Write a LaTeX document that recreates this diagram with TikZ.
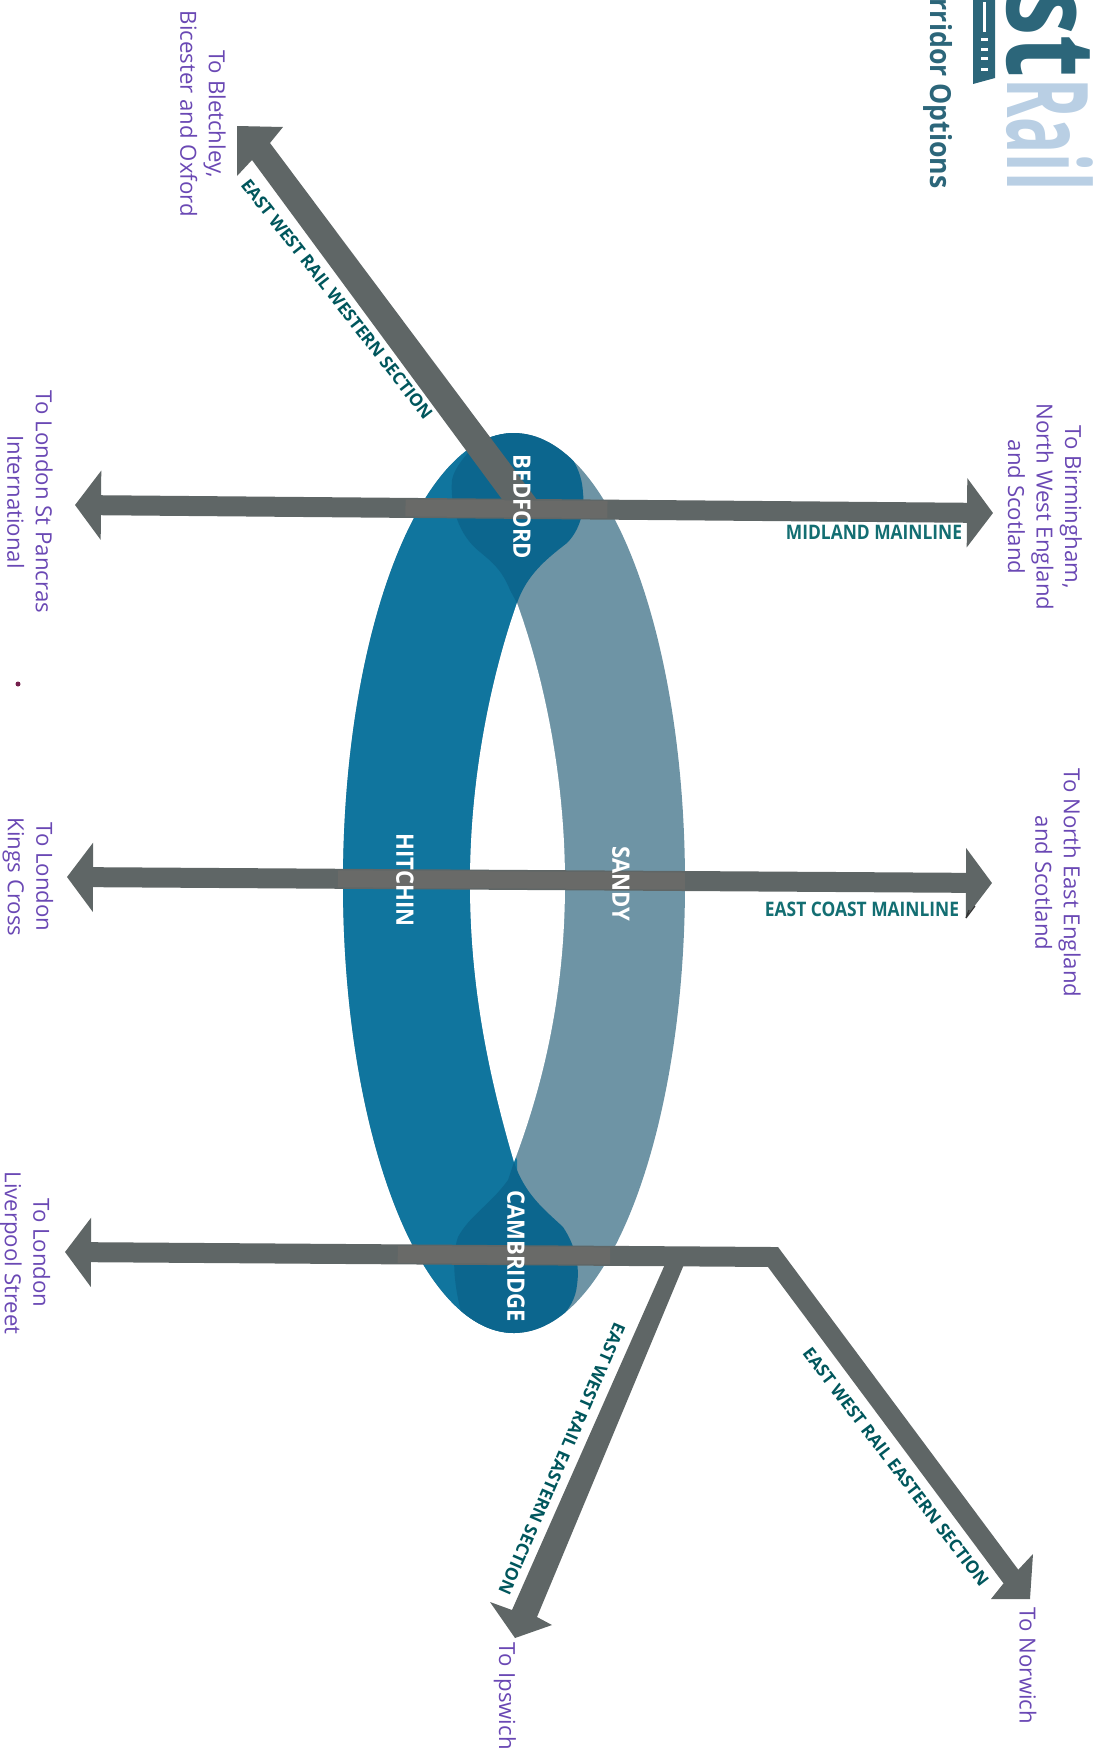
\documentclass[tikz,border=0pt]{standalone}
\usepackage{fontspec}
\usepackage{graphicx}
\setmainfont{Open Sans}
\usetikzlibrary{arrows.meta,calc}
\definecolor{ringdark}{HTML}{10759E}
\definecolor{ringlight}{HTML}{6E94A5}
\definecolor{blob}{HTML}{0C668E}
\definecolor{shaft}{HTML}{5F6666}
\definecolor{overring}{HTML}{696A68}
\definecolor{tealA}{HTML}{136E72}
\definecolor{tealB}{HTML}{00565C}
\definecolor{purp}{HTML}{6A48B4}
\definecolor{logodark}{HTML}{2C667A}
\definecolor{logolight}{HTML}{B9CFE4}
\tikzset{
  mainline/.style={draw=shaft,line width=20pt,line join=miter},
  bothheads/.style={mainline,{Triangle[length=26pt,width=68pt]}-{Triangle[length=26pt,width=68pt]}},
  westhead/.style={mainline,{Triangle[length=26pt,width=68pt]}-},
  overlay line/.style={draw=overring,line width=17pt},
  headfill/.style={fill=shaft,draw=none},
  placelabel/.style={text=purp,font=\fontsize{22.2}{28.5}\selectfont,align=center,rotate=-90,inner sep=0pt},
  linelabel/.style={text=tealA,font=\fontsize{20}{20}\bfseries\selectfont,inner sep=0pt},
  seclabel/.style={text=tealB,font=\fontsize{17.3}{18}\bfseries\selectfont,inner sep=0pt},
  stnlabel/.style={text=white,font=\fontsize{24}{24}\bfseries\selectfont,rotate=-90,inner sep=0pt}
}
\newcommand{\narrowlabel}[1]{\scalebox{0.87}[1]{#1}}
\newcommand{\narrowstn}[1]{\scalebox{0.92}[1]{#1}}
\begin{document}
\begin{tikzpicture}[x=1pt,y=-1pt]
\useasboundingbox (0,0) rectangle (1096,1757);
% ring
\fill[ringlight] (514,883) ellipse [x radius=171,y radius=450];
\begin{scope}
\clip (514,883) ellipse [x radius=171,y radius=450];
\fill[ringdark] (300,420) -- (517,420) -- (517,603) .. controls (490,680) and (470,780) .. (470,883)
  .. controls (470,990) and (490,1080) .. (517,1160) -- (517,1340) -- (300,1340) -- cycle;
\fill[blob] (517,603) .. controls (527,575) and (545,560) .. (567,543)
  .. controls (580,530) and (585,510) .. (583,493)
  .. controls (582,470) and (570,450) .. (547,430) -- (490,430)
  .. controls (470,450) and (455,465) .. (452,480)
  .. controls (450,505) and (458,535) .. (480,552)
  .. controls (492,562) and (502,570) .. (510,590) -- cycle;
\fill[blob] (514,1162) .. controls (525,1195) and (545,1210) .. (563,1227)
  .. controls (575,1245) and (580,1265) .. (577,1285)
  .. controls (575,1310) and (550,1335) .. (517,1340) -- (470,1340)
  .. controls (455,1300) and (450,1260) .. (458,1237)
  .. controls (470,1215) and (490,1205) .. (508,1180) -- cycle;
\end{scope}
\fill[white] (517,603) .. controls (490,680) and (470,780) .. (470,883)
  .. controls (470,990) and (490,1080) .. (514,1162)
  .. controls (545,1080) and (565,990) .. (565,883)
  .. controls (565,780) and (545,680) .. (517,603) -- cycle;
% named points
\coordinate (mlW) at (75,505);
\coordinate (mlE) at (993,513);
\coordinate (ecW) at (67,877);
\coordinate (ecE) at (992,883);
\coordinate (lvW) at (65,1252);
\coordinate (elbow) at (773,1257);
\coordinate (nwEnd) at (1012,1578);
% Bletchley arrow
\fill[headfill] (237,126) -- (283,127) -- (270,143) -- (537,500) -- (507,506) -- (252,160) -- (237,176) -- cycle;
% straight lines
\draw[bothheads] (mlW) -- (mlE);
\draw[bothheads] (ecW) -- (ecE);
\draw[westhead] (lvW) -- (elbow) -- (nwEnd);
\draw[overlay line] ($(mlW)!0.36!(mlE)$) -- ($(mlW)!0.58!(mlE)$);
\draw[overlay line] ($(ecW)!0.293!(ecE)$) -- ($(ecW)!0.668!(ecE)$);
\draw[overlay line] ($(lvW)!0.47!(elbow)$) -- ($(lvW)!0.77!(elbow)$);
% Norwich head
\fill[headfill] (1030,1599) -- (1033,1554) -- (1018,1570) -- (1003,1584) -- (991,1599) -- cycle;
% Ipswich arrow
\fill[headfill] (666,1262) -- (685,1262) -- (537,1617) -- (552,1625) -- (515,1638) -- (490,1602) -- (512,1610) -- cycle;
% labels on ring
\node[stnlabel] (bedford) at (522,507) {\narrowstn{BEDFORD}};
\node[stnlabel] (hitchin) at (405,880) {\narrowstn{HITCHIN}};
\node[stnlabel] (sandy) at (621,884) {\narrowstn{SANDY}};
\node[stnlabel] (cambridge) at (516,1256) {\narrowstn{CAMBRIDGE}};
% line labels
\node[linelabel] (midland) at (874,532) {\narrowlabel{MIDLAND MAINLINE}};
\node[linelabel] (eastcoast) at (862,909) {\narrowlabel{EAST COAST MAINLINE}};
\node[seclabel,rotate=-52] (western) at (337,299) {EAST WEST RAIL WESTERN SECTION};
\node[seclabel,rotate=-113.4] (easternA) at (562,1459) {EAST WEST RAIL EASTERN SECTION};
\node[seclabel,rotate=-52.7] (easternB) at (896,1467) {EAST WEST RAIL EASTERN SECTION};
% destinations
\node[placelabel] (bham) at (1045,507) {To Birmingham,\\North West England\\and Scotland};
\node[placelabel] (ne) at (1058,883) {To North East England\\and Scotland};
\node[placelabel] (blet) at (203,114) {To Bletchley,\\Bicester and Oxford};
\node[placelabel] (stp) at (30,502) {To London St Pancras\\International};
\node[placelabel] (kx) at (28,877) {To London\\Kings Cross};
\node[placelabel] (lst) at (25,1253) {To London\\Liverpool Street};
\node[placelabel] (ips) at (505,1696) {To Ipswich};
\node[placelabel] (nor) at (1028,1666) {To Norwich};
% specks
\fill[purp!60!red!70!black] (18,684) circle [radius=2.5];
\draw[black!80,line width=1.2pt] (966,918) -- (969,910) (966,918) -- (975,906);
% title and logo
\node[anchor=base east,rotate=-90,inner sep=0pt,text=logodark,font=\fontsize{29}{29}\bfseries\selectfont] (title) at (930,189) {\scalebox{0.92}[1]{rridor Options}};
\fill[logodark] (973,0) -- (995,0) -- (995,78) -- (973,84) -- cycle;
\fill[white] (983,2) rectangle (986,32);
\fill[white] (981,38) rectangle (988,41);
\fill[white] (981,48) rectangle (988,51);
\fill[white] (981,57) rectangle (988,60);
\fill[white] (981,68) rectangle (988,71);
\node[anchor=base east,rotate=-90,inner sep=0pt,text=logodark] (logoA) at (1007,78) {\fontsize{125}{125}\bfseries\selectfont\scalebox{0.78}[1]{st}};
\node[anchor=base west,rotate=-90,inner sep=0pt,text=logolight] (logoB) at (1007,78) {\fontsize{113}{113}\bfseries\selectfont\scalebox{0.53}[1]{Rail}};
\end{tikzpicture}
\end{document}
